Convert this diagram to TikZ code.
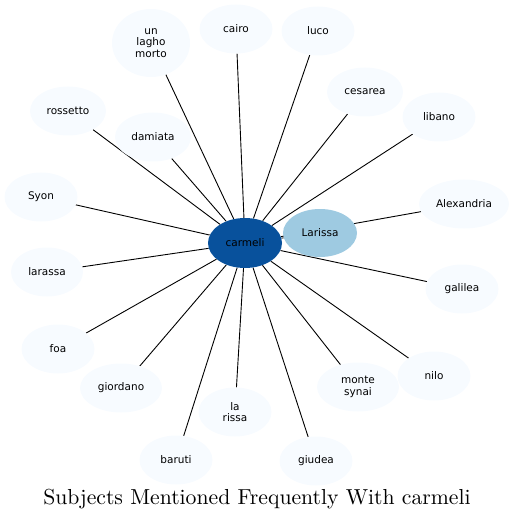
\documentclass[tikz,border=0pt]{standalone}
\usepackage{fontspec}
\newfontfamily\nodefont{DejaVu Sans}
\newfontfamily\titlefont{lmroman10-regular}[Extension=.otf]
\usetikzlibrary{shapes.geometric,backgrounds}
\definecolor{hubblue}{HTML}{08519C}
\definecolor{midblue}{HTML}{9ECAE1}
\definecolor{leafblue}{HTML}{F7FBFF}
\tikzset{
  leaf/.style={ellipse, fill=leafblue, inner sep=0pt, minimum height=49pt, minimum width=73pt,
    font=\nodefont\fontsize{10.5}{11.5}\selectfont, align=center, text=black},
  hub/.style={leaf, fill=hubblue, minimum width=74pt, minimum height=50pt},
  mid/.style={leaf, fill=midblue, minimum width=74pt, minimum height=48pt},
  link/.style={draw=black, line width=0.9pt}
}
\begin{document}
\begin{tikzpicture}[x=1pt,y=-1pt]
\useasboundingbox (0,0) rectangle (514,521);
\node[hub] (carmeli) at (245,243) {carmeli};
\node[mid] (larissa) at (320,233) {Larissa};
\node[leaf, minimum width=78pt, minimum height=68pt] (unlagho) at (151,43) {un\\lagho\\morto};
\node[leaf] (cairo) at (236,29) {cairo};
\node[leaf] (luco) at (318,31) {luco};
\node[leaf, minimum width=76pt] (cesarea) at (365,92) {cesarea};
\node[leaf] (libano) at (439,117) {libano};
\node[leaf, minimum width=90pt] (alex) at (464,204) {Alexandria};
\node[leaf] (galilea) at (462,289) {galilea};
\node[leaf] (nilo) at (434,376) {nilo};
\node[leaf, minimum width=82pt] (monte) at (358,387) {monte\\synai};
\node[leaf] (giudea) at (316,461) {giudea};
\node[leaf] (larissa2) at (235,412) {la\\rissa};
\node[leaf] (baruti) at (176,460) {baruti};
\node[leaf, minimum width=82pt] (giordano) at (121,388) {giordano};
\node[leaf] (foa) at (58,349) {foa};
\node[leaf, minimum width=72pt] (larassa) at (47,272) {larassa};
\node[leaf] (syon) at (41,197) {Syon};
\node[leaf, minimum width=76pt] (rossetto) at (68,111) {rossetto};
\node[leaf, minimum width=76pt] (damiata) at (153,137) {damiata};
\begin{pgfonlayer}{background}
\foreach \t in {larissa,unlagho,cairo,luco,cesarea,libano,alex,galilea,nilo,monte,giudea,larissa2,baruti,giordano,foa,larassa,syon,rossetto,damiata}
  \draw[link] (carmeli) -- (\t);
\end{pgfonlayer}
\node[font=\titlefont\fontsize{21.7}{26}\selectfont] (title) at (257,499) {Subjects Mentioned Frequently With carmeli};
\end{tikzpicture}
\end{document}
